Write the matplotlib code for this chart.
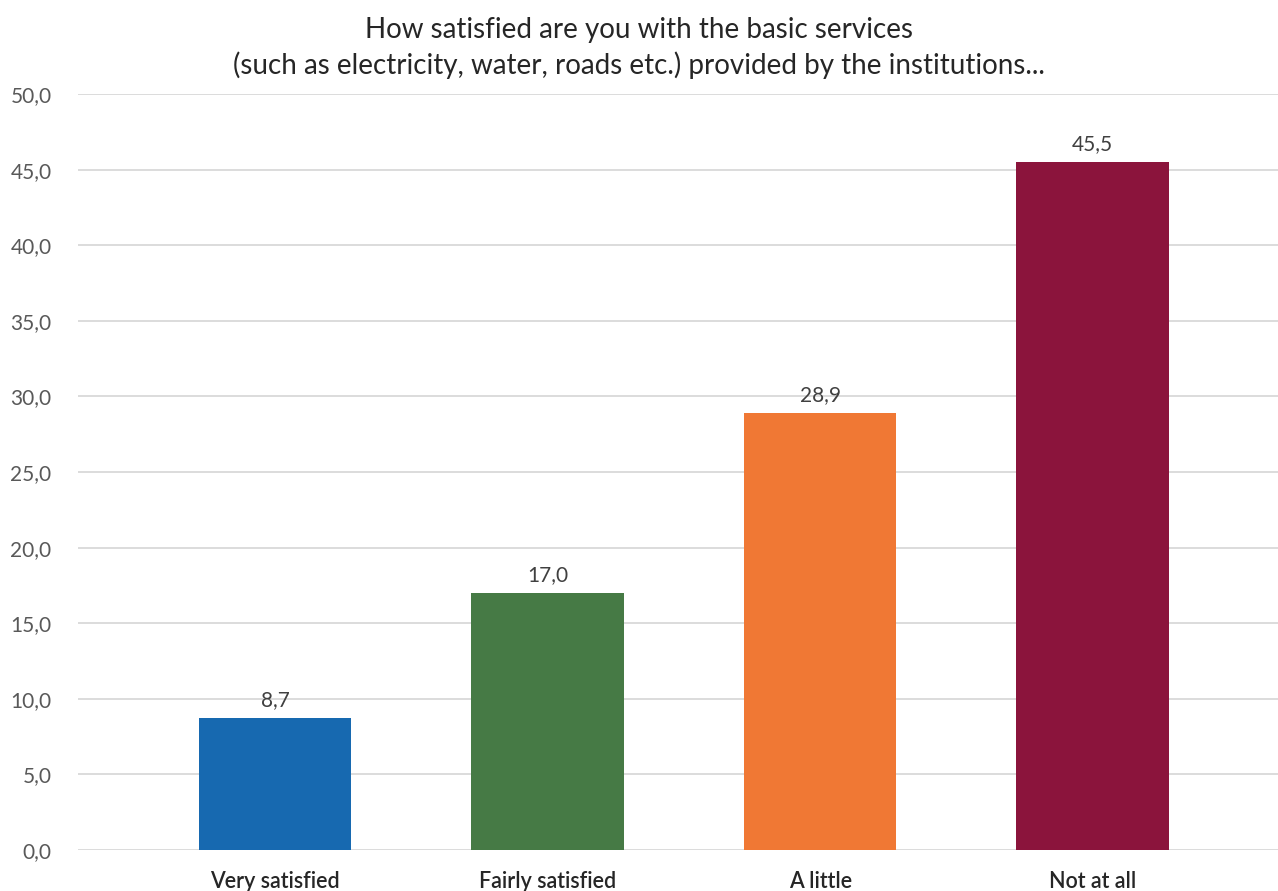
import matplotlib
matplotlib.use("Agg")
import matplotlib.pyplot as plt
from matplotlib.ticker import FuncFormatter

categories = ["Very satisfied", "Fairly satisfied", "A little", "Not at all"]
values = [8.7, 17.0, 28.9, 45.5]
colors = ["#1769B0", "#467A45", "#F07834", "#8B143C"]
yticks = [0, 5, 10, 15, 20, 25, 30, 35, 40, 45, 50]
title = "How satisfied are you with the basic services\n(such as electricity, water, roads etc.) provided by the institutions..."

plt.rcParams['font.family'] = ['Lato', 'DejaVu Sans']

fig = plt.figure(figsize=(12.78, 8.91), dpi=100)
ax = fig.add_axes([78/1278, 1-850/891, 1-78/1278, (850-94)/891])

x = list(range(len(categories)))
bars = ax.bar(x, values, width=0.56, color=colors, zorder=3)
for xi, v in zip(x, values):
    ax.annotate(f"{v:.1f}".replace(".", ","), (xi, v), xytext=(0, 6),
                textcoords="offset points", ha="center", va="bottom",
                fontsize=15, color="#404040")

ax.set_xlim(-0.723, 3.68)
ax.set_ylim(0, 50)
ax.set_yticks(yticks)
ax.yaxis.set_major_formatter(FuncFormatter(lambda v, p: f"{v:.1f}".replace(".", ",")))
ax.set_xticks(x)
ax.set_xticklabels(categories, fontsize=15.5, color="#262626", fontweight="semibold")
ax.tick_params(axis="y", labelsize=15, labelcolor="#595959", length=0, pad=19)
ax.tick_params(axis="x", length=0, pad=15)
ax.grid(axis="y", color="#d9d9d9", linewidth=1.3, zorder=0)
for s in ax.spines.values():
    s.set_visible(False)

fig.text(0.5, 1-48/891, title, ha="center", va="center", fontsize=20,
         color="#262626", linespacing=1.4)

fig.savefig("out.png", dpi=100)
